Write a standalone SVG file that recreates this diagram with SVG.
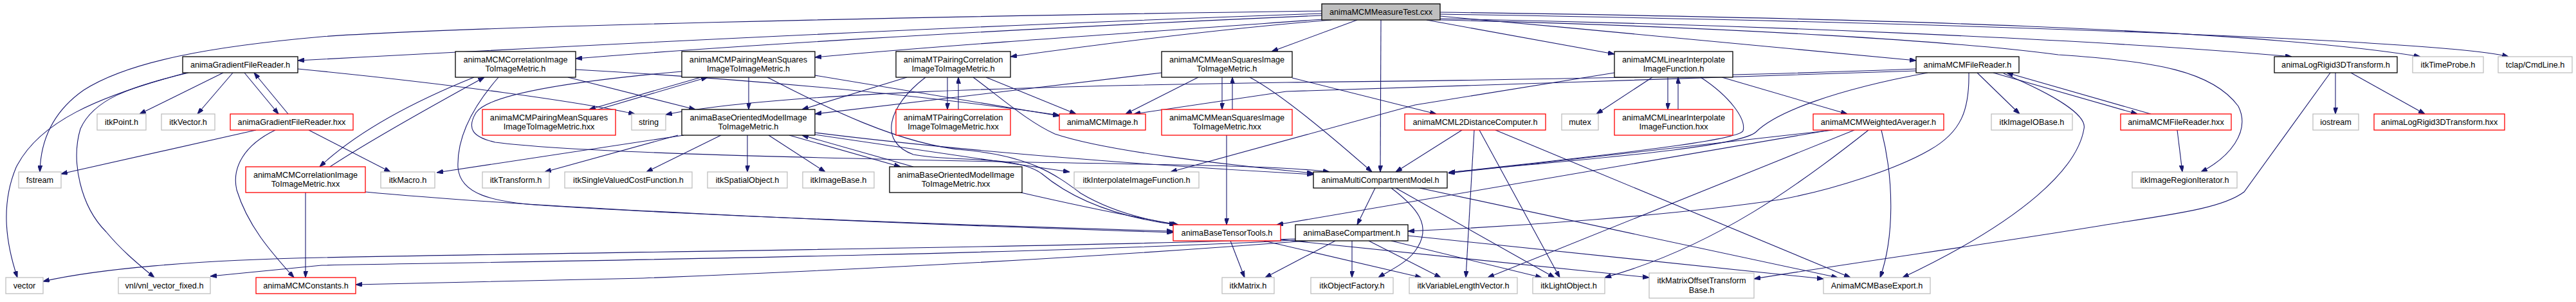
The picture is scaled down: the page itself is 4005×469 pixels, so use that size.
<svg xmlns="http://www.w3.org/2000/svg" width="4005" height="469" viewBox="0 0 4005 469">
<defs>
<marker id="a" viewBox="0 0 10 7" refX="10" refY="3.5" markerWidth="10" markerHeight="7" markerUnits="userSpaceOnUse" orient="auto">
<path d="M0,0 L10,3.5 L0,7 z" fill="#191970" stroke="#191970"/>
</marker>
<style>
.e path{fill:none;stroke:#191970;stroke-width:1.1;marker-end:url(#a)}
.n rect{fill:#fff;stroke-width:1.3}
.k rect{stroke:#000}
.r rect{stroke:#ff0000}
.g rect{stroke:#bfbfbf}
.root rect{fill:#bfbfbf;stroke:#000}
text{font-family:"Liberation Sans",Arial,Helvetica,sans-serif;font-size:12.7px;text-anchor:middle;fill:#000}
</style>
</defs>
<rect width="4005" height="469" fill="#fff"/>
<g id="edges" class="e">
<path d="M2055,17 C1400,26 700,42 500,57 C330,72 200,95 130,140 C80,175 63,220 62,267"/>
<path d="M2055,21 C1500,40 800,76 463,94"/>
<path d="M2055,24 C1500,48 1100,74 895,91"/>
<path d="M2058,30 C1700,55 1450,72 1267,89"/>
<path d="M2070,31 C1900,45 1700,70 1571,88"/>
<path d="M2110,31 L1977,80"/>
<path d="M2147,31 L2146,267"/>
<path d="M2218,31 L2510,84"/>
<path d="M2239,25 C2500,48 2800,78 2979,94"/>
<path d="M2239,29 C2700,38 3250,60 3563,88"/>
<path d="M2239,19 C2900,28 3500,45 3763,88"/>
<path d="M2239,22 C3000,34 3800,62 3900,88"/>
<path d="M2239,31 C2700,42 3050,65 3200,85 C3350,95 3440,110 3480,165 C3500,205 3465,245 3422,267"/>
<path d="M463,107 C700,130 900,158 987,177"/>
<path d="M290,113 C150,150 60,190 25,260 C0,320 10,380 27,431"/>
<path d="M293,113 C200,135 145,155 125,200 C110,250 125,320 165,360 C190,390 215,410 240,431"/>
<path d="M347,113 L217,177"/>
<path d="M362,113 L307,177"/>
<path d="M380,113 L433,177"/>
<path d="M448,177 L395,113"/>
<path d="M398,202 L95,270"/>
<path d="M428,202 C380,225 360,260 368,295 C385,350 420,390 457,431"/>
<path d="M480,202 L607,267"/>
<path d="M737,120 C650,155 560,200 497,259"/>
<path d="M513,259 C580,215 680,160 753,120"/>
<path d="M883,120 L1081,170"/>
<path d="M895,108 C1200,125 1450,150 1647,179"/>
<path d="M775,120 C740,160 710,210 712,260 C715,300 760,315 860,320 C1100,335 1500,350 1824,359"/>
<path d="M475,299 L475,431"/>
<path d="M568,298 C800,320 1300,345 1824,361"/>
<path d="M1090,120 L916,170"/>
<path d="M930,170 L1100,120"/>
<path d="M1164,120 L1164,170"/>
<path d="M1267,117 L1647,180"/>
<path d="M1060,111 C900,125 760,145 740,175 C725,200 735,213 770,221 C900,238 1300,246 1600,252 C1850,256 2000,258 2067,267"/>
<path d="M1193,120 C1280,165 1400,225 1500,233 C1600,242 1640,270 1680,300 C1730,330 1790,343 1830,349"/>
<path d="M1063,210 L679,268"/>
<path d="M1054,210 L847,267"/>
<path d="M1121,210 L1005,267"/>
<path d="M1162,210 L1162,267"/>
<path d="M1195,210 L1283,267"/>
<path d="M1227,210 L1400,259"/>
<path d="M1420,259 L1247,210"/>
<path d="M1267,209 L1663,267"/>
<path d="M1267,206 C1500,235 1800,258 2042,271"/>
<path d="M1587,299 C1700,325 1780,340 1832,349"/>
<path d="M1473,120 L1473,170"/>
<path d="M1490,170 L1490,120"/>
<path d="M1410,120 L1247,170"/>
<path d="M1533,120 L1673,177"/>
<path d="M1513,120 C1560,155 1600,190 1640,208 C1720,235 1900,255 2042,269"/>
<path d="M1439,120 C1380,165 1365,220 1420,240 C1480,252 1580,240 1620,270 C1680,320 1760,340 1828,349"/>
<path d="M1900,120 L1900,170"/>
<path d="M1916,170 L1916,120"/>
<path d="M1863,120 L1750,177"/>
<path d="M1806,113 L1267,177"/>
<path d="M1943,120 Q2000,150 2133,267"/>
<path d="M2009,121 L2233,177"/>
<path d="M1907,210 L1907,349"/>
<path d="M2138,292 L2110,349"/>
<path d="M2163,292 C2200,320 2230,350 2200,390 C2185,410 2160,420 2143,431"/>
<path d="M2170,292 L2417,431"/>
<path d="M2207,292 L2857,431"/>
<path d="M1913,374 L1935,431"/>
<path d="M1965,374 L2210,431"/>
<path d="M1991,372 L2564,431"/>
<path d="M2014,371 C1600,385 900,392 500,400 C300,404 150,418 67,437"/>
<path d="M2014,373 C1600,395 900,405 500,412 L327,429"/>
<path d="M2030,374 C1700,400 1300,420 1000,432 L553,442"/>
<path d="M2076,374 L1967,431"/>
<path d="M2102,374 L2102,431"/>
<path d="M2128,374 L2240,431"/>
<path d="M2163,374 L2397,431"/>
<path d="M2189,366 L2835,433"/>
<path d="M2273,202 L2170,267"/>
<path d="M2292,202 L2279,431"/>
<path d="M2300,202 L2425,431"/>
<path d="M2325,202 L2877,431"/>
<path d="M2593,120 L2593,170"/>
<path d="M2609,170 L2609,120"/>
<path d="M2569,120 L2482,177"/>
<path d="M2644,120 C2690,150 2715,185 2710,203 C2705,215 2600,230 2252,268"/>
<path d="M2677,120 L2872,177"/>
<path d="M2510,113 L2200,163 L1820,267"/>
<path d="M2850,202 L2252,269"/>
<path d="M2845,202 L1985,349"/>
<path d="M2883,202 L2313,431"/>
<path d="M2905,202 C2800,285 2667,383 2495,431"/>
<path d="M2925,202 C2945,280 2945,370 2923,431"/>
<path d="M2979,107 C2700,118 2300,125 2000,128 C1600,134 1200,145 1035,178"/>
<path d="M2979,110 C2700,122 2300,130 2000,142 L1763,177"/>
<path d="M2997,113 C2850,140 2760,175 2730,205 C2700,232 2400,252 2252,268"/>
<path d="M3061,113 C3062,170 3050,205 3000,233 C2950,262 2850,295 2767,310 C2600,335 2350,352 2189,359"/>
<path d="M3115,114 C3200,150 3245,180 3240,200 C3230,260 3150,340 2958,431"/>
<path d="M3074,113 L3140,177"/>
<path d="M3099,113 L3323,177"/>
<path d="M3344,177 L3120,113"/>
<path d="M3385,202 L3393,267"/>
<path d="M3631,113 L3631,177"/>
<path d="M3655,113 L3770,177"/>
<path d="M3623,113 C3560,200 3510,270 3489,298 C3460,320 3400,330 3300,345 C3100,378 2900,405 2727,433"/>
</g>
<g id="root" class="n root"><rect x="2055" y="6" width="184" height="25"/><text x="2147" y="23">animaMCMMeasureTest.cxx</text></g>
<g id="gfr" class="n k"><rect x="284" y="88" width="179" height="25"/><text x="373.5" y="105">animaGradientFileReader.h</text></g>
<g id="gfrx" class="n r"><rect x="358" y="177" width="191" height="25"/><text x="453.5" y="194">animaGradientFileReader.hxx</text></g>
<g id="pt" class="n g"><rect x="151" y="177" width="76" height="25"/><text x="189" y="194">itkPoint.h</text></g>
<g id="vec" class="n g"><rect x="251" y="177" width="83" height="25"/><text x="292.5" y="194">itkVector.h</text></g>
<g id="fs" class="n g"><rect x="29" y="267" width="66" height="25"/><text x="62" y="284">fstream</text></g>
<g id="ccx" class="n r"><rect x="382" y="259" width="186" height="40"/><text x="475" y="275.5">animaMCMCorrelationImage</text><text x="475" y="290">ToImageMetric.hxx</text></g>
<g id="vector" class="n g"><rect x="9" y="431" width="58" height="25"/><text x="38" y="448">vector</text></g>
<g id="vnl" class="n g"><rect x="184" y="431" width="143" height="25"/><text x="255.5" y="448">vnl/vnl_vector_fixed.h</text></g>
<g id="const" class="n r"><rect x="398" y="431" width="155" height="25"/><text x="475.5" y="448">animaMCMConstants.h</text></g>
<g id="cc" class="n k"><rect x="708" y="80" width="187" height="40"/><text x="801.5" y="96.5">animaMCMCorrelationImage</text><text x="801.5" y="111">ToImageMetric.h</text></g>
<g id="pmsx" class="n r"><rect x="750" y="170" width="207" height="40"/><text x="853.5" y="186.5">animaMCMPairingMeanSquares</text><text x="853.5" y="201">ImageToImageMetric.hxx</text></g>
<g id="str" class="n g"><rect x="982" y="177" width="53" height="25"/><text x="1008.5" y="194">string</text></g>
<g id="macro" class="n g"><rect x="592" y="267" width="84" height="25"/><text x="634" y="284">itkMacro.h</text></g>
<g id="tr" class="n g"><rect x="750" y="267" width="104" height="25"/><text x="802" y="284">itkTransform.h</text></g>
<g id="svcf" class="n g"><rect x="878" y="267" width="198" height="25"/><text x="977" y="284">itkSingleValuedCostFunction.h</text></g>
<g id="pms" class="n k"><rect x="1060" y="80" width="207" height="40"/><text x="1163.5" y="96.5">animaMCMPairingMeanSquares</text><text x="1163.5" y="111">ImageToImageMetric.h</text></g>
<g id="bo" class="n k"><rect x="1060" y="170" width="207" height="40"/><text x="1163.5" y="186.5">animaBaseOrientedModelImage</text><text x="1163.5" y="201">ToImageMetric.h</text></g>
<g id="so" class="n g"><rect x="1100" y="267" width="124" height="25"/><text x="1162" y="284">itkSpatialObject.h</text></g>
<g id="ib" class="n g"><rect x="1248" y="267" width="111" height="25"/><text x="1303.5" y="284">itkImageBase.h</text></g>
<g id="mtpc" class="n k"><rect x="1393" y="80" width="178" height="40"/><text x="1482" y="96.5">animaMTPairingCorrelation</text><text x="1482" y="111">ImageToImageMetric.h</text></g>
<g id="mtpcx" class="n r"><rect x="1393" y="170" width="178" height="40"/><text x="1482" y="186.5">animaMTPairingCorrelation</text><text x="1482" y="201">ImageToImageMetric.hxx</text></g>
<g id="box" class="n k"><rect x="1383" y="259" width="206" height="40"/><text x="1486" y="275.5">animaBaseOrientedModelImage</text><text x="1486" y="290">ToImageMetric.hxx</text></g>
<g id="img" class="n r"><rect x="1647" y="177" width="134" height="25"/><text x="1714" y="194">animaMCMImage.h</text></g>
<g id="ms" class="n k"><rect x="1806" y="80" width="203" height="40"/><text x="1907.5" y="96.5">animaMCMMeanSquaresImage</text><text x="1907.5" y="111">ToImageMetric.h</text></g>
<g id="msx" class="n r"><rect x="1806" y="170" width="203" height="40"/><text x="1907.5" y="186.5">animaMCMMeanSquaresImage</text><text x="1907.5" y="201">ToImageMetric.hxx</text></g>
<g id="iif" class="n g"><rect x="1670" y="267" width="194" height="25"/><text x="1767" y="284">itkInterpolateImageFunction.h</text></g>
<g id="btt" class="n r"><rect x="1824" y="349" width="167" height="25"/><text x="1907.5" y="366">animaBaseTensorTools.h</text></g>
<g id="mat" class="n g"><rect x="1900" y="431" width="81" height="25"/><text x="1940.5" y="448">itkMatrix.h</text></g>
<g id="l2" class="n r"><rect x="2184" y="177" width="219" height="25"/><text x="2293.5" y="194">animaMCML2DistanceComputer.h</text></g>
<g id="mutex" class="n g"><rect x="2428" y="177" width="57" height="25"/><text x="2456.5" y="194">mutex</text></g>
<g id="mcm" class="n k"><rect x="2042" y="267" width="208" height="25"/><text x="2146" y="284">animaMultiCompartmentModel.h</text></g>
<g id="bc" class="n k"><rect x="2014" y="349" width="175" height="25"/><text x="2101.5" y="366">animaBaseCompartment.h</text></g>
<g id="of" class="n g"><rect x="2038" y="431" width="128" height="25"/><text x="2102" y="448">itkObjectFactory.h</text></g>
<g id="vlv" class="n g"><rect x="2191" y="431" width="168" height="25"/><text x="2275" y="448">itkVariableLengthVector.h</text></g>
<g id="lo" class="n g"><rect x="2383" y="431" width="112" height="25"/><text x="2439" y="448">itkLightObject.h</text></g>
<g id="li" class="n k"><rect x="2510" y="80" width="184" height="40"/><text x="2602" y="96.5">animaMCMLinearInterpolate</text><text x="2602" y="111">ImageFunction.h</text></g>
<g id="lix" class="n r"><rect x="2510" y="170" width="184" height="40"/><text x="2602" y="186.5">animaMCMLinearInterpolate</text><text x="2602" y="201">ImageFunction.hxx</text></g>
<g id="wa" class="n r"><rect x="2819" y="177" width="203" height="25"/><text x="2920.5" y="194">animaMCMWeightedAverager.h</text></g>
<g id="motb" class="n g"><rect x="2564" y="424" width="163" height="39"/><text x="2645.5" y="439.5">itkMatrixOffsetTransform</text><text x="2645.5" y="454.5">Base.h</text></g>
<g id="exp" class="n g"><rect x="2835" y="431" width="166" height="25"/><text x="2918" y="448">AnimaMCMBaseExport.h</text></g>
<g id="fr" class="n k"><rect x="2979" y="88" width="160" height="25"/><text x="3059" y="105">animaMCMFileReader.h</text></g>
<g id="iob" class="n g"><rect x="3096" y="177" width="126" height="25"/><text x="3159" y="194">itkImageIOBase.h</text></g>
<g id="frx" class="n r"><rect x="3297" y="177" width="172" height="25"/><text x="3383" y="194">animaMCMFileReader.hxx</text></g>
<g id="iri" class="n g"><rect x="3315" y="267" width="163" height="25"/><text x="3396.5" y="284">itkImageRegionIterator.h</text></g>
<g id="lr" class="n k"><rect x="3536" y="88" width="191" height="25"/><text x="3631.5" y="105">animaLogRigid3DTransform.h</text></g>
<g id="tp" class="n g"><rect x="3751" y="88" width="110" height="25"/><text x="3806" y="105">itkTimeProbe.h</text></g>
<g id="tc" class="n g"><rect x="3884" y="88" width="115" height="25"/><text x="3941.5" y="105">tclap/CmdLine.h</text></g>
<g id="io" class="n g"><rect x="3596" y="177" width="71" height="25"/><text x="3631.5" y="194">iostream</text></g>
<g id="lrx" class="n r"><rect x="3691" y="177" width="203" height="25"/><text x="3792.5" y="194">animaLogRigid3DTransform.hxx</text></g>
</svg>
